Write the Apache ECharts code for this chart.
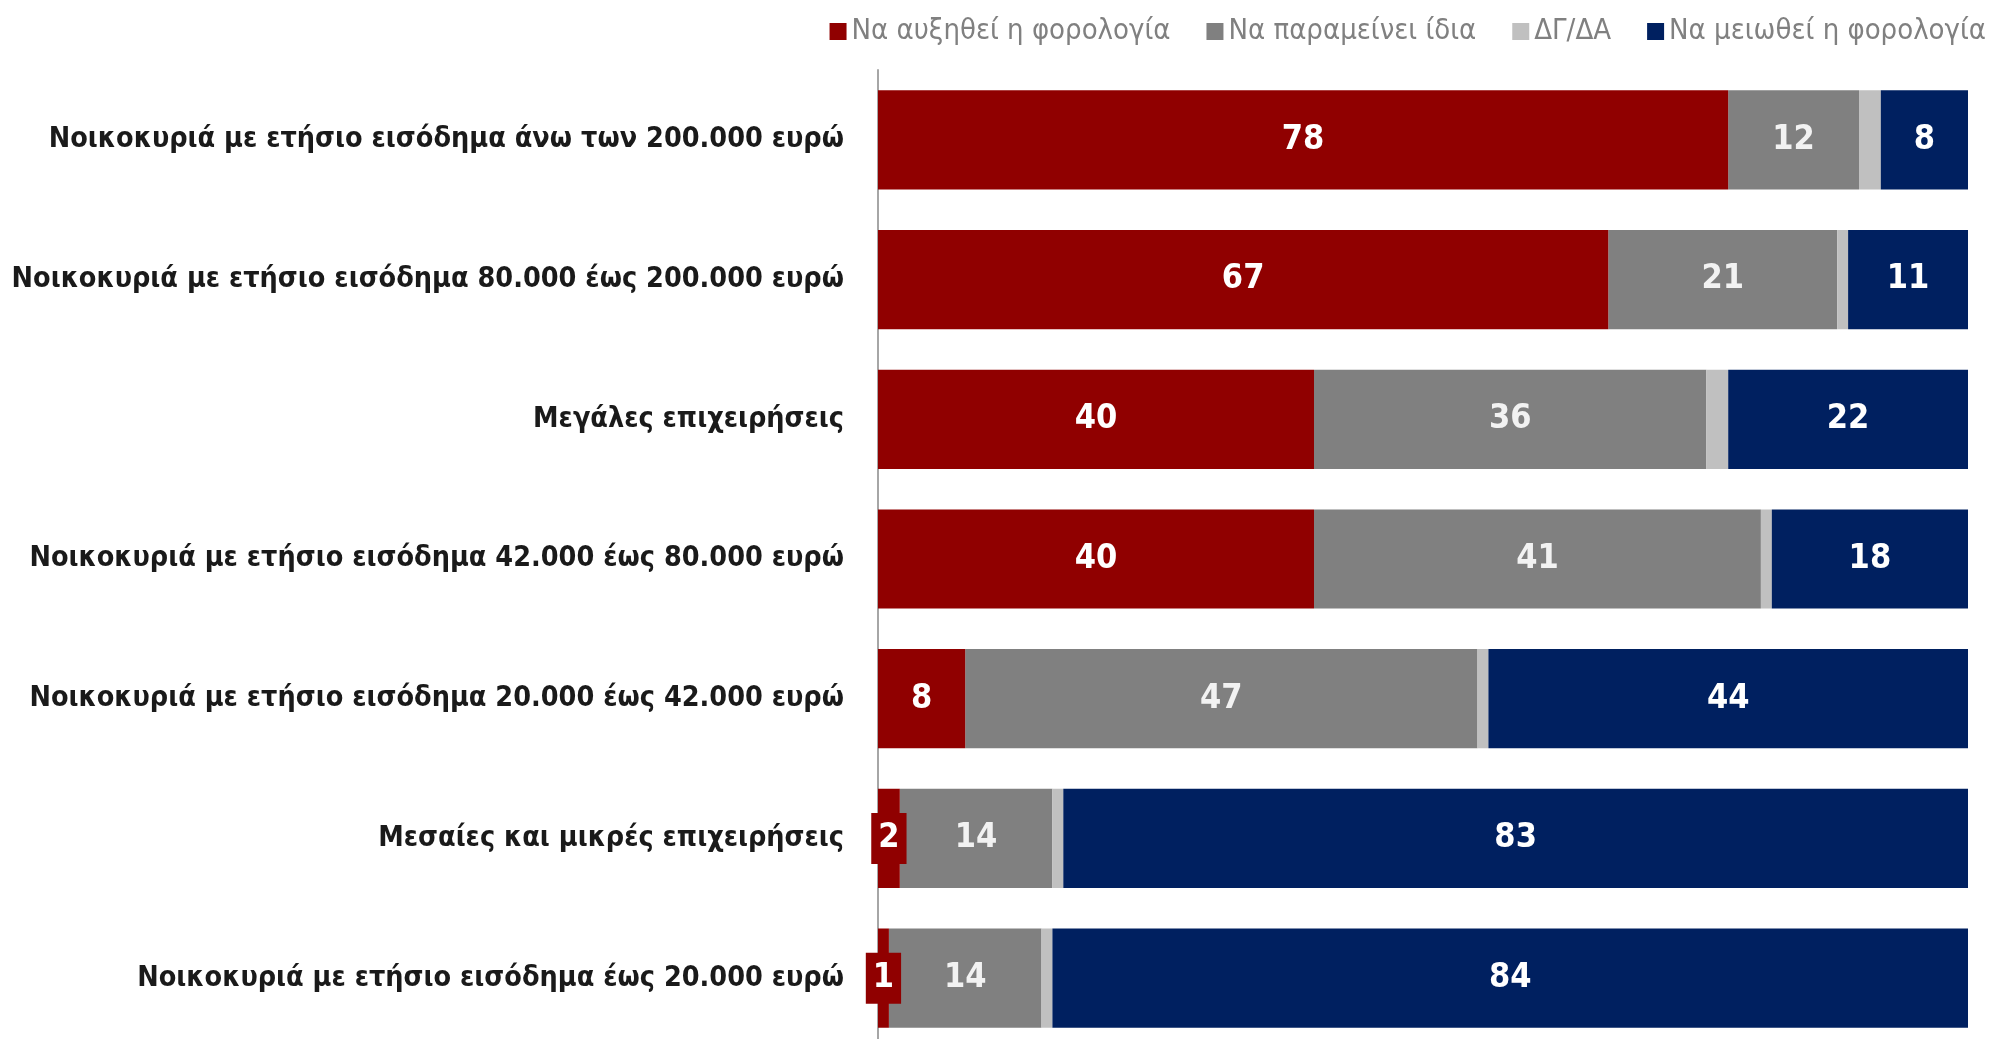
<!DOCTYPE html>
<html>
<head>
<meta charset="utf-8">
<script src="https://cdn.jsdelivr.net/npm/echarts@6/dist/echarts.min.js"></script>
<style>
html,body{margin:0;padding:0;background:#fff;}
#chart{width:2005px;height:1039px;}
</style>
</head>
<body>
<div id="chart"></div>
<script>
const categories = [
  'Νοικοκυριά με ετήσιο εισόδημα άνω των 200.000 ευρώ',
  'Νοικοκυριά με ετήσιο εισόδημα 80.000 έως 200.000 ευρώ',
  'Μεγάλες επιχειρήσεις',
  'Νοικοκυριά με ετήσιο εισόδημα 42.000 έως 80.000 ευρώ',
  'Νοικοκυριά με ετήσιο εισόδημα 20.000 έως 42.000 ευρώ',
  'Μεσαίες και μικρές επιχειρήσεις',
  'Νοικοκυριά με ετήσιο εισόδημα έως 20.000 ευρώ'
];
const seriesNames = ['Να αυξηθεί η φορολογία', 'Να παραμείνει ίδια', 'ΔΓ/ΔΑ', 'Να μειωθεί η φορολογία'];
const increase = [78, 67, 40, 40, 8, 2, 1];
const same = [12, 21, 36, 41, 47, 14, 14];
const dkna = [2, 1, 2, 1, 1, 1, 1];
const decrease = [8, 11, 22, 18, 44, 83, 84];

const FONT = "'Liberation Sans Narrow', 'Arial Narrow', 'DejaVu Sans Condensed', sans-serif";
const colors = ['#900000', '#808080', '#c0c0c0', '#002060'];

function labelCfg(color) {
  return {
    show: true,
    position: 'inside',
    color: color,
    fontFamily: FONT,
    fontWeight: 'bold',
    fontSize: 34
  };
}

const increaseData = increase.map(v => {
  if (v <= 3) {
    return {
      value: v,
      label: {
        backgroundColor: '#900000',
        padding: [9, 7, 8, 7]
      }
    };
  }
  return v;
});

const chart = echarts.init(document.getElementById('chart'), null, {renderer: 'canvas'});
chart.setOption({
  animation: false,
  backgroundColor: '#fff',
  legend: {
    data: seriesNames,
    top: 12,
    right: 14,
    itemWidth: 17,
    itemHeight: 17,
    itemGap: 36,
    icon: 'rect',
    textStyle: {fontFamily: FONT, fontSize: 29, color: '#808080'}
  },
  grid: {left: 878, right: 37, top: 70, height: 978, containLabel: false, outerBoundsMode: 'none'},
  xAxis: {
    type: 'value', min: 0, max: 100, show: false
  },
  yAxis: {
    type: 'category',
    data: categories,
    inverse: true,
    axisLine: {show: true, lineStyle: {color: '#a6a6a6', width: 2}},
    axisTick: {show: false},
    axisLabel: {
      margin: 34,
      fontFamily: FONT,
      fontWeight: 'bold',
      fontSize: 28.5,
      color: '#1a1a1a'
    }
  },
  series: [
    {name: seriesNames[0], type: 'bar', stack: 't', data: increaseData, barCategoryGap: '29%',
     itemStyle: {color: colors[0]}, label: labelCfg('#ffffff'), z: 3},
    {name: seriesNames[1], type: 'bar', stack: 't', data: same,
     itemStyle: {color: colors[1]}, label: labelCfg('#f2f2f2'), z: 2},
    {name: seriesNames[2], type: 'bar', stack: 't', data: dkna,
     itemStyle: {color: colors[2]}, label: {show: false}, z: 2},
    {name: seriesNames[3], type: 'bar', stack: 't', data: decrease,
     itemStyle: {color: colors[3]}, label: labelCfg('#ffffff'), z: 2}
  ]
});
</script>
</body>
</html>
